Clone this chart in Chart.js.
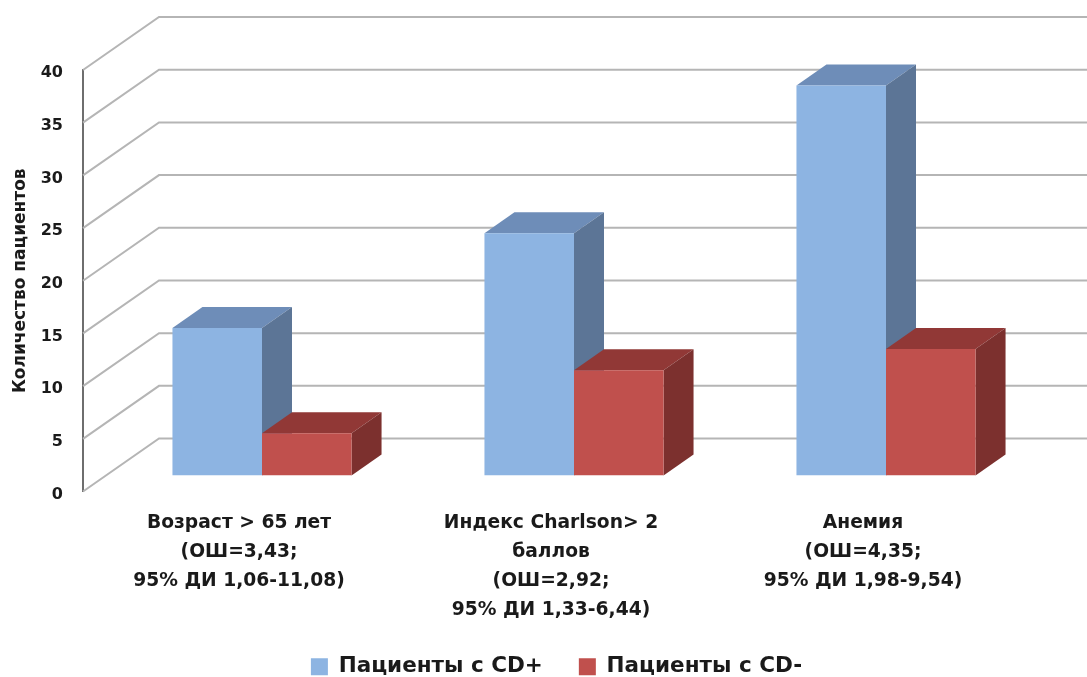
<!DOCTYPE html>
<html lang="ru">
<head>
<meta charset="utf-8">
<title>Количество пациентов</title>
<script src="https://cdn.jsdelivr.net/npm/chart.js@4/dist/chart.umd.min.js"></script>
<style>
  html, body { margin: 0; padding: 0; background: #fff; overflow: hidden; }
  canvas { display: block; }
</style>
</head>
<body>
<canvas id="chart" width="1087" height="677"></canvas>
<script>
const categories = [
  ['Возраст > 65 лет', '(ОШ=3,43;', '95% ДИ 1,06-11,08)'],
  ['Индекс Charlson> 2', 'баллов', '(ОШ=2,92;', '95% ДИ 1,33-6,44)'],
  ['Анемия', '(ОШ=4,35;', '95% ДИ 1,98-9,54)']
];
const cdPlus = [14, 23, 37];
const cdMinus = [4, 10, 12];
const seriesNames = ['Пациенты с CD+', 'Пациенты с CD-'];
const yTitle = 'Количество пациентов';

const fontFamily = '"DejaVu Sans", sans-serif';

// fake 3D: how far the back wall and the bar fronts sit from the axis plane
const wall = { dx: 76, dy: -53 };
const front = { dx: 23, dy: -16 };
const depth = { dx: 30, dy: -21 };

const faces = [
  { front: '#8db4e2', top: '#6e8db8', side: '#5c7596' },
  { front: '#c0504d', top: '#913836', side: '#7c302e' }
];

function polygon(ctx, points, color) {
  ctx.fillStyle = color;
  ctx.beginPath();
  points.forEach(function (p, i) {
    if (i === 0) ctx.moveTo(p[0], p[1]);
    else ctx.lineTo(p[0], p[1]);
  });
  ctx.closePath();
  ctx.fill();
}

const box3d = {
  id: 'box3d',
  afterLayout(chart) {
    // legend goes in the last strip of the canvas, right of the plot centre
    const legend = chart.legend;
    const h = legend.bottom - legend.top;
    legend.left += 47;
    legend.right += 47;
    legend.top = 620;
    legend.bottom = 620 + h;
  },
  beforeDatasetsDraw(chart) {
    const ctx = chart.ctx;
    const yScale = chart.scales.y;
    const left = chart.chartArea.left;

    // side wall and back wall lines for every tick
    ctx.save();
    ctx.strokeStyle = '#b5b5b5';
    ctx.lineWidth = 2;
    yScale.ticks.forEach(function (tick) {
      const y = yScale.getPixelForValue(tick.value);
      ctx.beginPath();
      ctx.moveTo(left, y);
      ctx.lineTo(left + wall.dx, y + wall.dy);
      ctx.lineTo(chart.width, y + wall.dy);
      ctx.stroke();
    });
    ctx.restore();

    // top and side faces, blue first so that red covers it
    chart.data.datasets.forEach(function (ds, di) {
      chart.getDatasetMeta(di).data.forEach(function (bar) {
        const x0 = bar.x - bar.width / 2 + front.dx;
        const x1 = bar.x + bar.width / 2 + front.dx;
        const yTop = bar.y + front.dy;
        const yBase = bar.base + front.dy;
        polygon(ctx, [
          [x0, yTop], [x1, yTop],
          [x1 + depth.dx, yTop + depth.dy], [x0 + depth.dx, yTop + depth.dy]
        ], faces[di].top);
        polygon(ctx, [
          [x1, yTop], [x1 + depth.dx, yTop + depth.dy],
          [x1 + depth.dx, yBase + depth.dy], [x1, yBase]
        ], faces[di].side);
      });
    });

    // the library's own bars become the front faces
    ctx.save();
    ctx.translate(front.dx, front.dy);
  },
  afterDatasetsDraw(chart) {
    chart.ctx.restore();
  }
};

new Chart(document.getElementById('chart'), {
  type: 'bar',
  data: {
    labels: categories,
    datasets: [
      { label: seriesNames[0], data: cdPlus, backgroundColor: faces[0].front },
      { label: seriesNames[1], data: cdMinus, backgroundColor: faces[1].front }
    ]
  },
  plugins: [box3d],
  options: {
    responsive: false,
    animation: false,
    categoryPercentage: 0.574,
    barPercentage: 1,
    layout: { padding: { top: 70, right: 68, bottom: -18, left: 0 } },
    plugins: {
      tooltip: { enabled: false },
      legend: {
        position: 'bottom',
        labels: {
          boxWidth: 17,
          boxHeight: 17,
          padding: 36,
          color: '#1a1a1a',
          font: { family: fontFamily, size: 21.5, weight: 'bold' }
        }
      }
    },
    scales: {
      x: {
        grid: { display: false },
        border: { display: false },
        ticks: {
          autoSkip: false,
          maxRotation: 0,
          padding: 9,
          color: '#1a1a1a',
          font: { family: fontFamily, size: 18.7, weight: 'bold', lineHeight: 1.55 }
        },
        afterFit(scale) { scale.height = 136; }
      },
      y: {
        min: 0,
        max: 40,
        grid: { display: false, drawTicks: false },
        border: { display: true, color: '#6e6e6e', width: 2 },
        ticks: {
          stepSize: 5,
          padding: 20,
          labelOffset: 3,
          color: '#1a1a1a',
          font: { family: fontFamily, size: 16, weight: 'bold' }
        },
        title: {
          display: true,
          text: yTitle,
          color: '#1a1a1a',
          padding: { top: 10, bottom: 0 },
          font: { family: fontFamily, size: 17, weight: 'bold' }
        },
        afterFit(scale) { scale.width = 83; }
      }
    }
  }
});
</script>
</body>
</html>
